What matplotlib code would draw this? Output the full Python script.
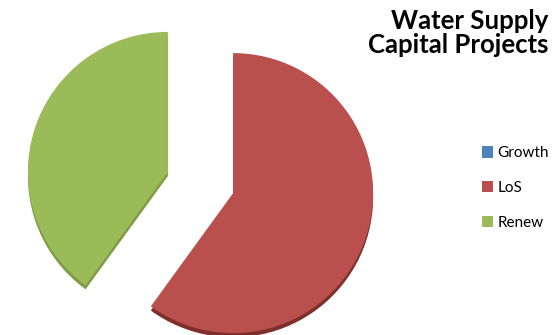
import matplotlib
matplotlib.use("Agg")
import matplotlib.pyplot as plt

categories = ["Growth", "LoS", "Renew"]
shares = [0, 60, 40]
colors = ["#4F81BD", "#B9504D", "#9BBB59"]
side_colors = ["#3A6190", "#7E2E2B", "#7F9E44"]
explode = [0.245, 0.245, 0.245]

fig = plt.figure(figsize=(5.53, 3.35), dpi=100)
ax = fig.add_axes([0, 0, 1, 1])

# darker copy pushed down a few pixels gives the thin 3d side
ax.pie(shares, colors=side_colors, explode=explode, startangle=90,
       counterclock=False, center=(0, -0.03), wedgeprops=dict(linewidth=0))
wedges, _ = ax.pie(shares, colors=colors, explode=explode, startangle=90,
                   counterclock=False, wedgeprops=dict(linewidth=0))

ax.set_aspect("auto")
ax.set_xlim(-200.5 / 140, (553 - 200.5) / 140)
ax.set_ylim(-152.5 / 140, 182.5 / 140)
ax.axis("off")

fig.text(548 / 553, 1 - 9 / 335, "Water Supply\nCapital Projects",
         ha="right", va="top", fontsize=18.5, fontweight="bold",
         family="Lato", linespacing=1.02)

fig.legend(wedges, categories, loc="center left",
           bbox_to_anchor=(482 / 553, 1 - 188 / 335), frameon=False,
           borderaxespad=0, borderpad=0,
           prop=dict(family="Lato", size=11), handlelength=0.75,
           handleheight=0.75, handletextpad=0.25, labelspacing=1.35)

fig.savefig("out.png", dpi=100)
